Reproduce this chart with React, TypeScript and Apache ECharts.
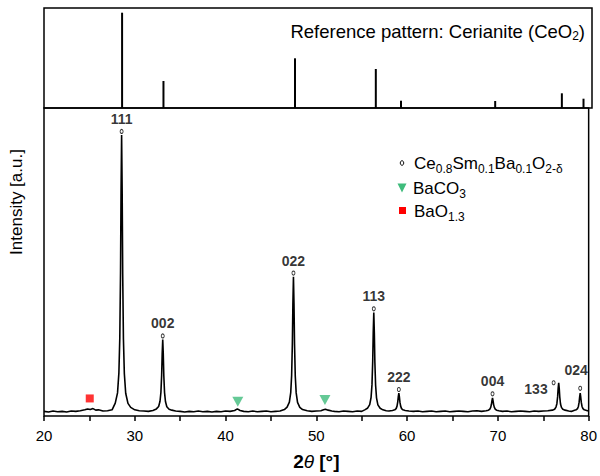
import React, { useEffect, useRef } from "react";
import * as echarts from "echarts";

// Reference pattern (Cerianite, CeO2): 2θ positions and relative intensities
const refPositions = [28.55, 33.08, 47.48, 56.33, 59.09, 69.4, 76.7, 79.07];
const refIntensities = [95.3, 27.0, 49.7, 39.0, 7.3, 7.0, 14.7, 9.3];

// Measured pattern, [2θ, intensity a.u.]
const pattern: [number, number][] = [
  [20.0, 1.5], [20.5, 1.3], [21.0, 1.6], [21.5, 1.4], [22.0, 1.5], [22.5, 1.3], [23.0, 1.6],
  [23.5, 1.5], [24.0, 1.7], [24.5, 2.0], [24.8, 2.3], [25.1, 2.1], [25.4, 2.4], [25.7, 1.9],
  [26.0, 2.0], [26.5, 1.6], [27.0, 1.7], [27.5, 2.0],
  [27.85, 4.2], [28.1, 7.5], [28.25, 14.0], [28.35, 25.3], [28.43, 46.4], [28.49, 73.3],
  [28.55, 91.2], [28.61, 73.0], [28.67, 46.0], [28.75, 25.0], [28.85, 13.8], [29.0, 7.4],
  [29.25, 4.1], [29.55, 2.8],
  [30.0, 2.0], [30.5, 1.7], [31.0, 1.6], [31.5, 1.5], [32.0, 1.8],
  [32.38, 2.3], [32.63, 3.1], [32.78, 4.8], [32.88, 7.7], [32.96, 13.2], [33.02, 20.2],
  [33.08, 24.8], [33.14, 20.0], [33.2, 13.0], [33.28, 7.6], [33.38, 4.7], [33.53, 3.0],
  [33.78, 2.2], [34.08, 1.9],
  [34.5, 1.6], [35.0, 1.5], [35.5, 1.3], [36.0, 1.5], [36.5, 1.4], [37.0, 1.6], [37.5, 1.4],
  [38.0, 1.5], [38.5, 1.3], [39.0, 1.5], [39.5, 1.4], [40.0, 1.6], [40.5, 1.5], [41.0, 1.8],
  [41.3, 2.3], [41.6, 1.8], [42.0, 1.5], [42.5, 1.4], [43.0, 1.6], [43.5, 1.4], [44.0, 1.5],
  [44.5, 1.6], [45.0, 1.4], [45.5, 1.5], [46.0, 1.6], [46.48, 2.1],
  [46.78, 2.9], [47.03, 4.5], [47.18, 7.6], [47.28, 13.2], [47.36, 23.5], [47.42, 36.6],
  [47.48, 45.2], [47.54, 36.2], [47.6, 23.2], [47.68, 13.0], [47.78, 7.5], [47.93, 4.4],
  [48.18, 2.8], [48.48, 2.1],
  [49.0, 1.7], [49.5, 1.5], [50.0, 1.6], [50.5, 1.7], [50.8, 2.0], [51.0, 2.2], [51.3, 1.9],
  [51.7, 1.6], [52.0, 1.5], [52.5, 1.4], [53.0, 1.6], [53.5, 1.5], [54.0, 1.4], [54.5, 1.6],
  [55.0, 1.5], [55.33, 2.0],
  [55.63, 2.5], [55.88, 3.7], [56.03, 6.0], [56.13, 10.1], [56.21, 17.6], [56.27, 27.2],
  [56.33, 33.6], [56.39, 27.0], [56.45, 17.4], [56.53, 10.0], [56.63, 5.9], [56.78, 3.6],
  [57.03, 2.5], [57.33, 2.0],
  [57.7, 1.7], [58.0, 1.6], [58.39, 1.8],
  [58.64, 2.0], [58.79, 2.4], [58.89, 3.2], [58.97, 4.6], [59.03, 6.3], [59.09, 7.4],
  [59.15, 6.2], [59.21, 4.5], [59.29, 3.2], [59.39, 2.4], [59.54, 2.0], [59.79, 1.8],
  [60.2, 1.6], [60.7, 1.5], [61.2, 1.6], [61.7, 1.4], [62.2, 1.5], [62.7, 1.6], [63.2, 1.4],
  [63.7, 1.5], [64.2, 1.6], [64.7, 1.4], [65.2, 1.5], [65.7, 1.6], [66.2, 1.5], [66.7, 1.4],
  [67.2, 1.6], [67.7, 1.7], [68.2, 1.5], [68.71, 1.7],
  [68.96, 1.9], [69.11, 2.2], [69.21, 2.8], [69.29, 3.8], [69.35, 5.0], [69.41, 5.9],
  [69.47, 4.9], [69.53, 3.7], [69.61, 2.8], [69.71, 2.2], [69.86, 1.9], [70.11, 1.7],
  [70.5, 1.5], [71.0, 1.6], [71.5, 1.4], [72.0, 1.5], [72.5, 1.6], [73.0, 1.5], [73.5, 1.4],
  [74.0, 1.6], [74.5, 1.5], [75.0, 1.6], [75.5, 1.7], [76.0, 1.9],
  [76.25, 2.2], [76.4, 2.9], [76.5, 4.0], [76.58, 6.2], [76.64, 9.0], [76.7, 10.8],
  [76.76, 8.9], [76.82, 6.1], [76.9, 3.9], [77.0, 2.8], [77.15, 2.2], [77.4, 1.9],
  [77.8, 1.6], [78.1, 1.5], [78.37, 1.8],
  [78.62, 2.0], [78.77, 2.4], [78.87, 3.1], [78.95, 4.5], [79.01, 6.2], [79.07, 7.4],
  [79.13, 6.1], [79.19, 4.4], [79.27, 3.1], [79.37, 2.4], [79.52, 2.0], [79.77, 1.8],
  [80.0, 1.6],
];

// Ce0.8Sm0.1Ba0.1O2-δ reflections
const hklLabels = ["111", "002", "022", "113", "222", "004", "133", "024"];
const hklX = [28.55, 33.08, 47.48, 56.33, 59.09, 69.41, 76.14, 79.07];
const hklY = [92.4, 26.0, 46.4, 34.8, 8.6, 7.2, 10.8, 9.0];

// Secondary phases
const baco3X = [41.35, 50.95];
const baco3Y = [4.6, 5.2];
const baoX = [25.04];
const baoY = [5.7];

const xTicks = [20, 30, 40, 50, 60, 70, 80];

const FONT = '"Liberation Sans", Arial, Helvetica, sans-serif';
const GREEN = "#3fbc7c";
const RED = "#ff0000";

export default function App() {
  const ref = useRef<HTMLDivElement>(null);

  useEffect(() => {
    if (!ref.current) return;
    const chart = echarts.init(ref.current, null, { renderer: "svg" });

    const labelOverrides: Record<string, any> = {
      "133": { position: "left", distance: 4, offset: [0, 6] },
      "024": { position: "top", distance: 9, offset: [-4, 0] },
    };

    const hklData = hklX.map((x, i) => {
      const o = labelOverrides[hklLabels[i]];
      return o ? { value: [x, hklY[i]], label: o } : { value: [x, hklY[i]] };
    });

    const subRich = (pad: number, size: number) => ({
      fontSize: size,
      fontFamily: FONT,
      color: "#000",
      padding: [pad, 0, 0, 0],
    });

    const option: any = {
      animation: false,
      backgroundColor: "#fff",
      textStyle: { fontFamily: FONT },
      grid: [
        { left: 44, right: 8, top: 8, height: 100, show: true, borderColor: "#000", borderWidth: 1.5 },
        { left: 44, right: 8, top: 108, height: 308, show: true, borderColor: "#000", borderWidth: 1.5 },
      ],
      xAxis: [
        {
          type: "value", gridIndex: 0, min: 20, max: 80, interval: 10,
          axisLine: { show: false }, axisTick: { show: false }, axisLabel: { show: false },
          splitLine: { show: false },
        },
        {
          type: "value", gridIndex: 1, min: 20, max: 80, interval: 10,
          axisLine: { show: false },
          axisTick: { show: true, inside: false, length: 5, lineStyle: { color: "#000", width: 1.5 } },
          minorTick: { show: true, splitNumber: 2, length: 5, lineStyle: { color: "#000", width: 1.5 } },
          axisLabel: {
            color: "#000", fontSize: 15, fontFamily: FONT, margin: 12,
            formatter: (v: number) => (xTicks.includes(v) ? String(v) : ""),
          },
          splitLine: { show: false },
          name: "{b|2}{i|θ}{b| [°]}",
          nameLocation: "middle",
          nameGap: 36,
          nameTextStyle: {
            rich: {
              b: { fontSize: 19, fontWeight: "bold", fontFamily: FONT, color: "#000" },
              i: { fontSize: 19, fontStyle: "italic", fontFamily: FONT, color: "#000" },
            },
          },
        },
      ],
      yAxis: [
        {
          type: "value", gridIndex: 0, min: 0, max: 100,
          axisLine: { show: false }, axisTick: { show: false }, axisLabel: { show: false },
          splitLine: { show: false },
        },
        {
          type: "value", gridIndex: 1, min: 0, max: 100,
          axisLine: { show: false }, axisTick: { show: false }, axisLabel: { show: false },
          splitLine: { show: false },
        },
      ],
      series: [
        {
          name: "Cerianite",
          type: "bar",
          xAxisIndex: 0,
          yAxisIndex: 0,
          barWidth: 2,
          itemStyle: { color: "#000" },
          data: refPositions.map((x, i) => [x, refIntensities[i]]),
        },
        {
          name: "pattern",
          type: "line",
          xAxisIndex: 1,
          yAxisIndex: 1,
          showSymbol: false,
          lineStyle: { color: "#000", width: 1.6 },
          data: pattern,
          z: 2,
        },
        {
          name: "Ce0.8Sm0.1Ba0.1O2-δ",
          type: "scatter",
          xAxisIndex: 1,
          yAxisIndex: 1,
          symbol: "circle",
          symbolSize: [3, 4],
          itemStyle: { color: "#fff", borderColor: "#000", borderWidth: 1 },
          label: {
            show: true,
            position: "top",
            distance: 3,
            color: "#000",
            fontSize: 14,
            fontWeight: "bold",
            fontFamily: FONT,
            formatter: (p: any) => hklLabels[p.dataIndex],
          },
          data: hklData,
          z: 3,
        },
        {
          name: "BaCO3",
          type: "scatter",
          xAxisIndex: 1,
          yAxisIndex: 1,
          symbol: "triangle",
          symbolRotate: 180,
          symbolSize: [11, 10],
          itemStyle: { color: GREEN },
          data: baco3X.map((x, i) => [x, baco3Y[i]]),
          z: 3,
        },
        {
          name: "BaO1.3",
          type: "scatter",
          xAxisIndex: 1,
          yAxisIndex: 1,
          symbol: "rect",
          symbolSize: 8,
          itemStyle: { color: RED },
          data: baoX.map((x, i) => [x, baoY[i]]),
          z: 3,
        },
      ],
      graphic: [
        {
          type: "text",
          x: 585,
          y: 31,
          style: {
            text: "Reference pattern: Cerianite (CeO{s|2})",
            fontSize: 18.5,
            fontFamily: FONT,
            fill: "#000",
            align: "right",
            verticalAlign: "middle",
            rich: { s: subRich(10, 12) },
          },
        },
        {
          type: "text",
          x: 16,
          y: 202,
          rotation: Math.PI / 2,
          style: {
            text: "Intensity [a.u.]",
            fontSize: 17,
            fontFamily: FONT,
            fill: "#000",
            align: "center",
            verticalAlign: "middle",
          },
        },
        // legend
        {
          type: "ellipse",
          shape: { cx: 402, cy: 163, rx: 1.7, ry: 2.3 },
          style: { fill: "#fff", stroke: "#000", lineWidth: 1 },
        },
        {
          type: "text",
          x: 414,
          y: 163,
          style: {
            text: "Ce{s|0.8}Sm{s|0.1}Ba{s|0.1}O{s|2-δ}",
            fontSize: 17,
            fontFamily: FONT,
            fill: "#000",
            align: "left",
            verticalAlign: "middle",
            rich: { s: subRich(11, 12) },
          },
        },
        {
          type: "polygon",
          shape: { points: [[397.5, 183.5], [406.5, 183.5], [402, 192.5]] },
          style: { fill: GREEN },
        },
        {
          type: "text",
          x: 413,
          y: 188,
          style: {
            text: "BaCO{s|3}",
            fontSize: 17,
            fontFamily: FONT,
            fill: "#000",
            align: "left",
            verticalAlign: "middle",
            rich: { s: subRich(11, 12) },
          },
        },
        {
          type: "rect",
          shape: { x: 399, y: 207, width: 7, height: 7 },
          style: { fill: RED },
        },
        {
          type: "text",
          x: 414,
          y: 211,
          style: {
            text: "BaO{s|1.3}",
            fontSize: 17,
            fontFamily: FONT,
            fill: "#000",
            align: "left",
            verticalAlign: "middle",
            rich: { s: subRich(11, 12) },
          },
        },
      ],
    };

    chart.setOption(option);
    return () => chart.dispose();
  }, []);

  return (
    <div
      ref={ref}
      style={{ position: "fixed", left: 0, top: 0, width: 600, height: 476, background: "#fff" }}
    />
  );
}
